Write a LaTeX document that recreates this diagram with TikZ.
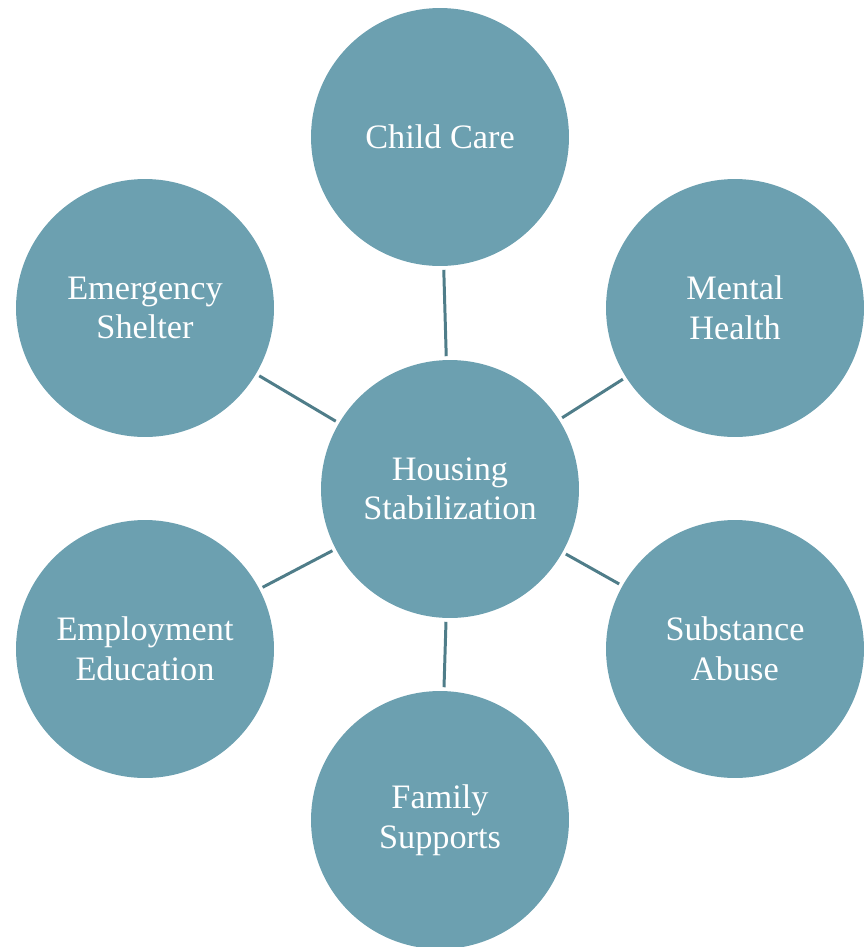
\documentclass[tikz,border=0pt]{standalone}
\usepackage{fontspec}
\setmainfont{Liberation Serif}
\definecolor{bub}{HTML}{6CA0B0}
\definecolor{lnk}{HTML}{4F7D89}
\begin{document}
\begin{tikzpicture}[x=0.02cm,y=-0.02cm,
  bubble/.style={circle,fill=bub,minimum size=5.16cm,inner sep=0pt,text=white,align=center,font=\fontsize{19.5}{22.5}\selectfont},
  link/.style={draw=lnk,line width=1.7pt,shorten <=2pt,shorten >=2pt}]
\useasboundingbox (0,0) rectangle (864,947);
\node[bubble] (hs) at (450,489) {Housing\\Stabilization};
\node[bubble] (cc) at (440,137) {Child Care};
\node[bubble] (es) at (145,308) {Emergency\\Shelter};
\node[bubble] (mh) at (735,308) {Mental\\Health};
\node[bubble] (ee) at (145,649) {Employment\\Education};
\node[bubble] (sa) at (735,649) {Substance\\Abuse};
\node[bubble] (fs) at (440,820) {Family\\Supports};
\foreach \n in {cc,es,mh,ee,sa,fs} \draw[link] (\n) -- (hs);
\end{tikzpicture}
\end{document}
